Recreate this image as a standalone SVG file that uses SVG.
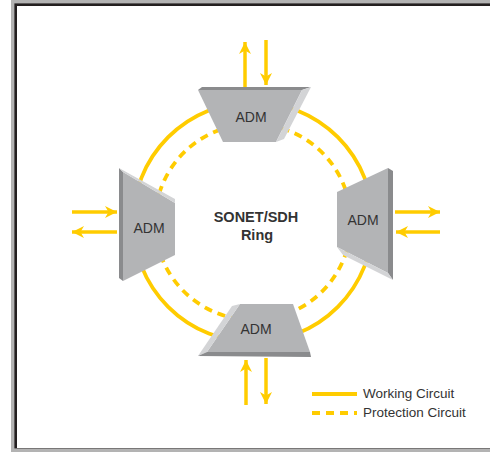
<svg xmlns="http://www.w3.org/2000/svg" width="490" height="452" viewBox="0 0 490 452">
  <defs>
    <marker id="head" markerUnits="userSpaceOnUse" markerWidth="16" markerHeight="16" refX="12" refY="6" orient="auto">
      <path d="M12,6 L0,0 L3.5,6 L0,12 Z" fill="#ffcc00"/>
    </marker>
    <style>
      .face { fill: #b3b4b6; }
      .dark { fill: #8a8b8d; }
      .light { fill: #d3d4d6; }
      .lbl { font-family: "Liberation Sans", Arial, sans-serif; fill: #333333; }
      .adm { font-size: 14px; text-anchor: middle; }
      .work { fill: none; stroke: #ffcc00; stroke-width: 3.8; }
      .prot { fill: none; stroke: #ffcc00; stroke-width: 3.8; stroke-dasharray: 8 6; }
      .arrow { stroke: #ffcc00; stroke-width: 3.5; fill: none; marker-end: url(#head); }
    </style>
  </defs>

  <!-- frame -->
  <rect x="0" y="0" width="490" height="452" fill="#ffffff"/>
  <rect x="11" y="0" width="479" height="452" fill="#b3b3b3"/>
  <rect x="14.4" y="3.4" width="476" height="445" fill="#231f20"/>
  <rect x="17" y="6" width="473" height="442" fill="#ffffff"/>

  <!-- ring -->
  <g id="connectors">
    <circle class="work" cx="253" cy="222" r="120"/>
    <circle class="prot" cx="253" cy="222" r="98"/>
    <!-- tributary arrows -->
    <line class="arrow" x1="245" y1="87" x2="245" y2="42"/>
    <line class="arrow" x1="266" y1="40" x2="266" y2="85"/>
    <line class="arrow" x1="72" y1="212" x2="117" y2="212"/>
    <line class="arrow" x1="117" y1="232" x2="72" y2="232"/>
    <line class="arrow" x1="395" y1="212" x2="440" y2="212"/>
    <line class="arrow" x1="440" y1="232" x2="396" y2="232"/>
    <line class="arrow" x1="246" y1="405" x2="246" y2="360"/>
    <line class="arrow" x1="266" y1="358" x2="266" y2="404"/>
  </g>

  <!-- top ADM -->
  <g id="adm-top">
    <polygon class="face" points="198,90 302,90 276,142 223,142"/>
    <polygon class="dark" points="198,90 202,87 311,87 302,90"/>
    <polygon class="light" points="302,90 311,87 284,139 276,142"/>
    <text class="lbl adm" x="251" y="122">ADM</text>
  </g>

  <!-- left ADM -->
  <g id="adm-left">
    <polygon class="face" points="123,172 175,203 175,255 123,281"/>
    <polygon class="dark" points="119,168 123,172 123,281 119,278"/>
    <polygon class="light" points="119,168 175,199 175,203 123,172"/>
    <text class="lbl adm" x="149" y="233">ADM</text>
  </g>

  <!-- right ADM -->
  <g id="adm-right">
    <polygon class="face" points="337,192 388,168 388,273 337,247"/>
    <polygon class="dark" points="388,168 393,171 393,280 388,273"/>
    <polygon class="light" points="337,247 388,273 393,280 343,255"/>
    <text class="lbl adm" x="363" y="225">ADM</text>
  </g>

  <!-- bottom ADM -->
  <g id="adm-bottom">
    <polygon class="face" points="240,304 293,304 310,352 207,352"/>
    <polygon class="light" points="232,306 240,304 207,352 198,356"/>
    <polygon class="dark" points="198,356 207,352 310,352 311,357"/>
    <text class="lbl adm" x="256" y="334">ADM</text>
  </g>

  <!-- ring title -->
  <g id="ring-label">
    <text class="lbl" x="256" y="222" font-size="14.5" font-weight="bold" text-anchor="middle">SONET/SDH</text>
    <text class="lbl" x="257" y="240" font-size="14.5" font-weight="bold" text-anchor="middle">Ring</text>
  </g>

  <!-- legend -->
  <g id="legend">
    <line class="work" x1="312" y1="394" x2="357" y2="394"/>
    <line class="prot" x1="312" y1="413" x2="357" y2="413"/>
    <text class="lbl" x="363" y="398" font-size="13.5">Working Circuit</text>
    <text class="lbl" x="363" y="417" font-size="13.5">Protection Circuit</text>
  </g>
</svg>
